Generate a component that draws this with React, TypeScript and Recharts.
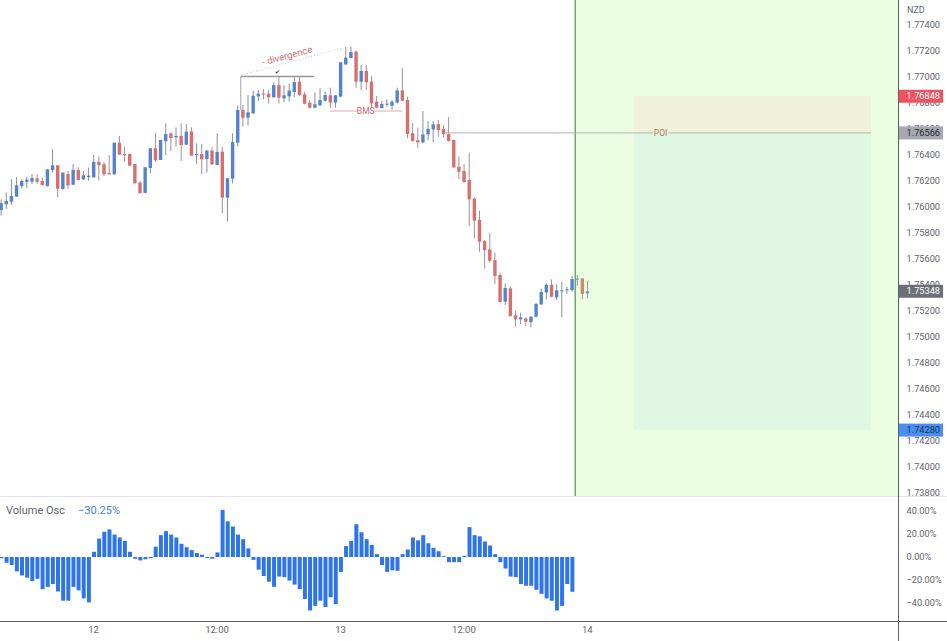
import React from 'react';
import { ComposedChart, Bar, XAxis, YAxis, ReferenceArea, ReferenceLine, ReferenceDot } from 'recharts';

const opens = [1.75973,1.76017,1.76037,1.76076,1.76158,1.76189,1.76191,1.76217,1.76196,1.76158,1.76281,1.76317,1.76135,1.7625,1.76168,1.76281,1.76209,1.76227,1.76225,1.76343,1.76325,1.76258,1.76248,1.76489,1.76404,1.76404,1.76327,1.76184,1.76104,1.76296,1.76448,1.76358,1.76502,1.76563,1.76532,1.76543,1.76476,1.76578,1.76394,1.76404,1.76366,1.7643,1.76319,1.76422,1.76068,1.76214,1.76491,1.76742,1.76683,1.76716,1.76847,1.76868,1.76868,1.7684,1.76934,1.76832,1.76847,1.76881,1.7696,1.76863,1.76799,1.7676,1.76778,1.76814,1.76855,1.76799,1.76845,1.77093,1.77142,1.77191,1.7696,1.77042,1.7696,1.76806,1.76757,1.76783,1.76775,1.76799,1.76893,1.76819,1.76563,1.76509,1.76493,1.76555,1.76593,1.76634,1.76596,1.76557,1.76511,1.76306,1.76273,1.76204,1.7606,1.75898,1.75734,1.7567,1.75588,1.75473,1.75268,1.7537,1.75163,1.75132,1.75139,1.75111,1.75152,1.75247,1.75339,1.75398,1.75301,1.7535,1.75355,1.75357,1.75437,1.75447,1.75332];
const highs = [1.76055,1.76107,1.76209,1.76225,1.76209,1.7623,1.76248,1.76248,1.76222,1.76286,1.76443,1.76317,1.76261,1.76273,1.76327,1.76302,1.76273,1.76299,1.76396,1.76384,1.76345,1.76396,1.76491,1.76543,1.76461,1.76409,1.76327,1.76196,1.76302,1.76448,1.76568,1.76512,1.7664,1.76568,1.76609,1.7664,1.76632,1.76609,1.76486,1.76481,1.76435,1.76455,1.76563,1.7646,1.76217,1.76563,1.76776,1.76781,1.76857,1.76891,1.76896,1.76901,1.76896,1.76955,1.76998,1.76934,1.76947,1.76998,1.76998,1.76883,1.76819,1.76878,1.76909,1.76883,1.76914,1.76857,1.77109,1.77229,1.77229,1.77198,1.77088,1.77088,1.77006,1.7685,1.76814,1.76824,1.76819,1.76914,1.77068,1.76845,1.7664,1.76606,1.76734,1.76657,1.76657,1.76665,1.76627,1.76688,1.76516,1.76383,1.76327,1.76414,1.7607,1.75968,1.75742,1.75798,1.75645,1.75491,1.75409,1.75388,1.75198,1.75183,1.75147,1.75157,1.7526,1.7537,1.75409,1.75439,1.75404,1.75422,1.75383,1.75465,1.75473,1.75447,1.75429];
const lows = [1.7593,1.75981,1.76012,1.76076,1.7614,1.7614,1.76173,1.76173,1.76161,1.76153,1.76261,1.76071,1.76127,1.76137,1.76163,1.76199,1.76204,1.76199,1.7622,1.76199,1.76235,1.76245,1.76245,1.76396,1.76345,1.76312,1.76178,1.76102,1.76102,1.76255,1.76345,1.76358,1.76396,1.76427,1.76461,1.7635,1.76473,1.76391,1.76327,1.7625,1.76261,1.76319,1.76319,1.75947,1.75884,1.76178,1.76461,1.76614,1.76622,1.76711,1.76811,1.76824,1.76793,1.76837,1.76793,1.76801,1.76806,1.76842,1.76852,1.76786,1.76755,1.76755,1.76773,1.76806,1.76755,1.7676,1.76842,1.77088,1.7714,1.76914,1.76896,1.76896,1.76755,1.76755,1.76755,1.76768,1.76745,1.76793,1.76811,1.76524,1.76499,1.76447,1.76486,1.76511,1.76493,1.76537,1.76529,1.76499,1.76293,1.76209,1.76183,1.7585,1.75755,1.75652,1.75522,1.75568,1.75404,1.7526,1.75242,1.75152,1.75075,1.75096,1.75081,1.7507,1.75147,1.75242,1.75286,1.75301,1.75281,1.75147,1.75327,1.75345,1.75388,1.75286,1.75293];
const closes = [1.76025,1.76043,1.76081,1.76163,1.76196,1.76207,1.76219,1.76191,1.76166,1.76286,1.76317,1.76137,1.76261,1.76163,1.76281,1.76204,1.7624,1.76237,1.76343,1.76317,1.76248,1.76248,1.76491,1.76399,1.76394,1.76314,1.76178,1.76102,1.76302,1.76448,1.76355,1.76512,1.76558,1.76527,1.76543,1.76473,1.76576,1.76391,1.76404,1.76363,1.7643,1.76325,1.7642,1.76068,1.76217,1.76496,1.76743,1.76683,1.76724,1.76852,1.76868,1.76863,1.7684,1.76934,1.76837,1.76855,1.76891,1.76957,1.76857,1.76791,1.7676,1.76786,1.76819,1.76857,1.76799,1.76855,1.77109,1.77145,1.77188,1.7696,1.77042,1.76955,1.76793,1.7676,1.76788,1.76791,1.76806,1.76893,1.76814,1.76557,1.76504,1.76493,1.76555,1.76596,1.76632,1.76588,1.76557,1.76504,1.76301,1.76268,1.76188,1.76055,1.75891,1.75729,1.75665,1.75583,1.75465,1.75265,1.75373,1.75157,1.75132,1.75147,1.75114,1.75152,1.7525,1.75342,1.75398,1.75306,1.75355,1.75355,1.75363,1.75442,1.75445,1.75327,1.75348];
const oscValues = [-1,-5,-7,-12.5,-16,-18,-21,-19,-28,-26,-23.5,-30,-38,-38,-26,-29,-36,-39.5,4.5,16,22,24,19.5,17,14,4.5,-1.5,-3,-2,-1,9,19,22.5,19.5,17,11.5,8.5,6,3.5,2,-0.8,-1.5,4,41,31,26.5,19.5,15.5,7.5,-2.5,-11,-16.5,-21.5,-26,-17,-17.5,-20.5,-24,-28,-36.5,-46.5,-42.5,-38,-43.5,-35,-41,-13,9.5,14,28.5,21.5,15.5,10.5,2.5,-7,-13,-11.5,-12,2.5,6.5,17,14.5,19,12,8,5,0.8,-4.5,-4.5,-4.5,1,26,19,18,13.5,10,2.5,-4.5,-10,-17,-17.5,-23.5,-25,-25,-28.5,-32,-36,-38,-46.5,-42.5,-23.5,-30.25];

const SLOT_COUNT = 175;
const priceTicks = [1.738,1.74,1.742,1.744,1.746,1.748,1.75,1.752,1.754,1.756,1.758,1.76,1.762,1.764,1.766,1.768,1.77,1.772,1.774];
const LAST_PRICE = 1.75348;
const POI_PRICE = 1.76566;
const TARGET_PRICE = 1.76848;
const STOP_PRICE = 1.7428;
const oscTicks = [40,20,0,-20,-40];
const oscLabels = ['40.00%','20.00%','0.00%','\u221220.00%','\u221240.00%'];
const timeTicks = [18,42,66,90,114];
const timeLabels = ['12','12:00','13','12:00','14'];

const rows = Array.from({ length: SLOT_COUNT }, (_, i) => ({
  slot: i,
  open: opens[i] ?? null,
  high: highs[i] ?? null,
  low: lows[i] ?? null,
  close: closes[i] ?? null,
  osc: oscValues[i] ?? null,
}));

const FONT = 'Roboto, sans-serif';
const UP = '#5484cd';
const DOWN = '#d6706f';
const UP_WICK = '#858f9f';
const DOWN_WICK = '#a98f90';
const TEXT = '#5f626b';
const WIDTH = 947;
const LEFT = -1.57;
const AXIS_W = 48.43;

const Candle = (p: any) => {
  const { x, y, width, height, payload } = p;
  if (payload.high == null) return null;
  const k = height / (payload.high - payload.low || 1);
  const top = y + (payload.high - Math.max(payload.open, payload.close)) * k;
  const bot = y + (payload.high - Math.min(payload.open, payload.close)) * k;
  const up = payload.close >= payload.open;
  const cx = x + width / 2;
  return (
    <g>
      <line x1={cx} x2={cx} y1={y} y2={y + height} stroke={up ? UP_WICK : DOWN_WICK} strokeWidth={1} />
      <rect x={x} y={top} width={width} height={Math.max(bot - top, 1)} fill={up ? UP : DOWN} />
    </g>
  );
};

const badges: Record<string, { bg: string; fg: string }> = {
  [String(TARGET_PRICE)]: { bg: '#f2525f', fg: '#ffffff' },
  [String(POI_PRICE)]: { bg: '#a5a8b0', fg: '#26282e' },
  [String(LAST_PRICE)]: { bg: '#6c6f78', fg: '#ffffff' },
  [String(STOP_PRICE)]: { bg: '#4a8ff0', fg: '#10325f' },
};

const PriceTick = (p: any) => {
  const { x, y, payload } = p;
  const b = badges[String(payload.value)];
  const text = Number(payload.value).toFixed(5);
  if (b) {
    return (
      <g>
        <rect x={x - 8.5} y={y - 6.5} width={45} height={13} fill={b.bg} />
        <text x={x} y={y + 3.2} fontSize={9.2} fontFamily={FONT} fill={b.fg}>{text}</text>
      </g>
    );
  }
  return <text x={x} y={y + 3.2} fontSize={9.2} fontFamily={FONT} fill={TEXT}>{text}</text>;
};

const label = (text: string, color: string, size: number, angle = 0) => (p: any) => (
  <text x={p.cx} y={p.cy} textAnchor="middle" dominantBaseline="central" fontSize={size} fontFamily={FONT} fill={color}
    transform={angle ? `rotate(${angle} ${p.cx} ${p.cy})` : undefined}>{text}</text>
);

const divStyle = (s: React.CSSProperties): React.CSSProperties => ({ position: 'absolute', ...s });

export default function App() {
  return (
    <div style={{ position: 'absolute', left: 0, top: 0, width: WIDTH, height: 641, background: '#fff', overflow: 'hidden' }}>
      <div style={divStyle({ left: 0, top: 0 })}>
        <ComposedChart width={WIDTH} height={496.5} data={rows} margin={{ top: 0, right: 0, bottom: 0, left: LEFT }} barCategoryGap={0}>
          <XAxis xAxisId="c" dataKey="slot" type="category" hide />
          <XAxis xAxisId="t" type="number" domain={[-0.5, 174.5]} hide allowDataOverflow />
          <YAxis orientation="right" width={AXIS_W} domain={[1.737692, 1.775885]} allowDataOverflow axisLine={false} tickLine={false} tickSize={0} tickMargin={8}
            ticks={[...priceTicks, LAST_PRICE, POI_PRICE, TARGET_PRICE, STOP_PRICE]} interval={0} tick={<PriceTick />} />
          <Bar xAxisId="c" dataKey={(d: any) => (d.high == null ? null : [d.low, d.high])} barSize={3.4} shape={<Candle />} isAnimationActive={false} />

          <ReferenceLine xAxisId="t" segment={[{ x: -0.5, y: LAST_PRICE }, { x: 174.5, y: LAST_PRICE }]} stroke="#c4c8cf" strokeDasharray="1 3" />
          <ReferenceArea xAxisId="t" x1={111.55} x2={174.3} y1={1.7377} y2={1.77588} ifOverflow="visible" fill="#9bfa6e" fillOpacity={0.2} stroke="none" zIndex={900} />
          <ReferenceArea xAxisId="t" x1={122.86} x2={168.7} y1={POI_PRICE} y2={TARGET_PRICE} fill="#f3e6cf" fillOpacity={0.55} stroke="none" zIndex={910} />
          <ReferenceArea xAxisId="t" x1={122.86} x2={168.7} y1={STOP_PRICE} y2={POI_PRICE} fill="#d9f3e4" fillOpacity={0.6} stroke="none" zIndex={910} />
          <ReferenceLine xAxisId="t" x={111.5} stroke="#6ea86e" strokeWidth={1.5} zIndex={920} />
          <ReferenceLine xAxisId="t" segment={[{ x: 86.3, y: POI_PRICE }, { x: 126.55, y: POI_PRICE }]} stroke="#b4b4aa" zIndex={920} />
          <ReferenceLine xAxisId="t" segment={[{ x: 129.47, y: POI_PRICE }, { x: 168.7, y: POI_PRICE }]} stroke="#b4b4aa" zIndex={920} />
          <ReferenceLine xAxisId="t" segment={[{ x: 46.99, y: 1.770115 }, { x: 66.49, y: 1.772192 }]} stroke="#c9c4c6" strokeDasharray="1 2" />
          <ReferenceLine xAxisId="t" segment={[{ x: 46.85, y: 1.77 }, { x: 61.04, y: 1.77 }]} stroke="#a88e96" strokeWidth={1.5} />
          <ReferenceLine xAxisId="t" segment={[{ x: 46.85, y: 1.77 }, { x: 46.85, y: 1.767423 }]} stroke="#a8a0a4" strokeWidth={1} />
          <ReferenceLine xAxisId="t" segment={[{ x: 64.1, y: 1.767346 }, { x: 69.4, y: 1.767346 }]} stroke="#e2a9aa" />
          <ReferenceLine xAxisId="t" segment={[{ x: 72.5, y: 1.767346 }, { x: 78.1, y: 1.767346 }]} stroke="#e2a9aa" />
          <ReferenceDot xAxisId="t" x={55.8} y={1.771615} r={0} shape={label('- divergence', '#cf7276', 9.6, -15)} />
          <ReferenceDot xAxisId="t" x={53.85} y={1.77042} r={0} shape={label('\u2714', '#33353b', 6)} />
          <ReferenceDot xAxisId="t" x={71} y={1.767346} r={0} shape={label('BMS', '#c9686c', 8.5)} />
          <ReferenceDot xAxisId="t" x={128} y={POI_PRICE} r={0} shape={label('POI', '#b3776c', 8.5)} zIndex={930} />
        </ComposedChart>
      </div>

      <div style={divStyle({ left: 0, top: 497 })}>
        <ComposedChart width={WIDTH} height={144} data={rows} margin={{ top: 0, right: 0, bottom: 0, left: LEFT }} barCategoryGap={0}>
          <XAxis dataKey="slot" type="category" height={20} ticks={timeTicks} interval={0} axisLine={false} tickLine={false} tickSize={0} tickMargin={5}
            tickFormatter={(v: number) => timeLabels[timeTicks.indexOf(v)]} tick={{ fontSize: 9.5, fontFamily: FONT, fill: TEXT }} />
          <YAxis orientation="right" width={AXIS_W} domain={[-55.65, 52.17]} allowDataOverflow axisLine={false} tickLine={false} tickSize={0} tickMargin={8}
            ticks={oscTicks} interval={0} tickFormatter={(v: number) => oscLabels[oscTicks.indexOf(v)]} tick={{ fontSize: 9.2, fontFamily: FONT, fill: TEXT }} />
          <Bar dataKey="osc" barSize={4} fill="#2f75ea" isAnimationActive={false} />
        </ComposedChart>
      </div>

      <div style={divStyle({ left: 0, top: 496, width: WIDTH, height: 1, background: '#dfe2e8' })} />
      <div style={divStyle({ left: 0, top: 621, width: WIDTH, height: 1, background: '#5d6068' })} />
      <div style={divStyle({ left: 898, top: 0, width: 1, height: 641, background: '#5d6068' })} />
      <div style={divStyle({ left: 907, top: 5, fontFamily: FONT, fontSize: 9, lineHeight: '11px', color: TEXT })}>NZD</div>
      <div style={divStyle({ left: 6, top: 504, fontFamily: FONT, fontSize: 11, lineHeight: '14px', color: TEXT })}>Volume Osc</div>
      <div style={divStyle({ left: 78, top: 504, fontFamily: FONT, fontSize: 11, lineHeight: '14px', color: '#3f7fe0' })}>{'\u221230.25%'}</div>
    </div>
  );
}
